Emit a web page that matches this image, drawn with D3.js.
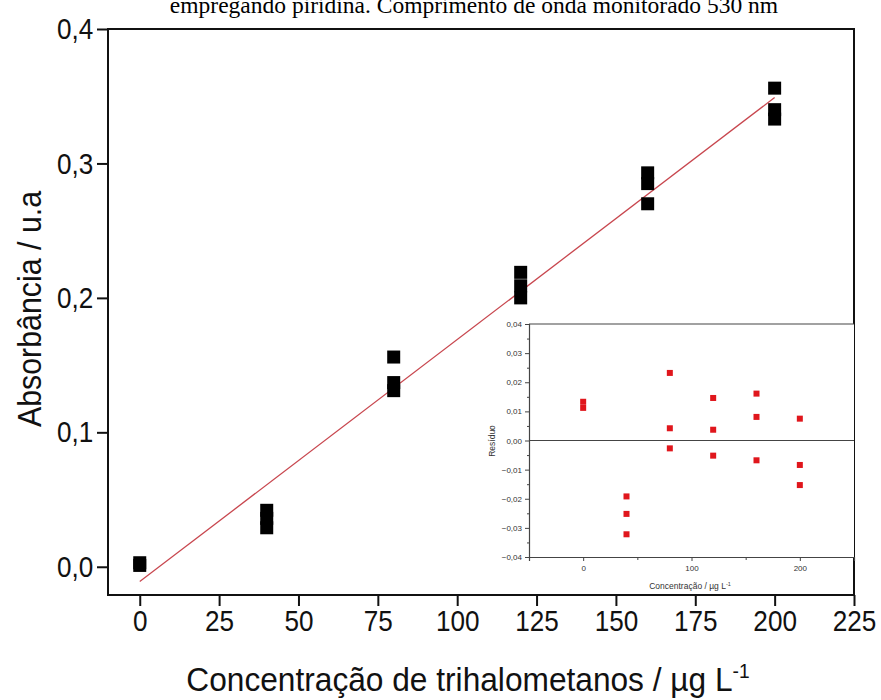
<!DOCTYPE html>
<html>
<head>
<meta charset="utf-8">
<script src="https://cdn.jsdelivr.net/npm/d3@7"></script>
<style>
  body { margin: 0; background: #fff; }
  svg { display: block; }
</style>
</head>
<body>
<script>
// concentrations (µg/L) and replicate absorbances
const conc = [0, 40, 80, 120, 160, 200];
const absorb = [
  [0.001, 0.003],
  [0.042, 0.036, 0.029],
  [0.156, 0.137, 0.131],
  [0.219, 0.209, 0.200],
  [0.293, 0.285, 0.270],
  [0.356, 0.340, 0.333]
];
const residuals = [
  [0.0112, 0.0133],
  [-0.0192, -0.0252, -0.0322],
  [0.0232, 0.0042, -0.0027],
  [0.0146, 0.0037, -0.0052],
  [0.0161, 0.0081, -0.0068],
  [0.0075, -0.0084, -0.0153]
];
const fitX = [0, 200];
const fitY = [-0.011, 0.349];
const xTicks = [0, 25, 50, 75, 100, 125, 150, 175, 200, 225];
const yTicks = [0, 0.1, 0.2, 0.3, 0.4];
const insetXTicks = [0, 100, 200];
const insetYTicks = [-0.04, -0.03, -0.02, -0.01, 0, 0.01, 0.02, 0.03, 0.04];

const W = 881, H = 700;
const plot = {left: 108, right: 854, top: 29, bottom: 595};
const inset = {left: 529, right: 854, top: 324, bottom: 557};

const fmt1 = d => d3.format('.1f')(d).replace('.', ',');
const fmt2 = d => d3.format('.2f')(d).replace('.', ',');

const svg = d3.select('body').append('svg')
  .attr('width', W).attr('height', H);

// caption, cut off by the top edge as in the original
svg.append('text')
  .attr('x', 474).attr('y', 13)
  .attr('text-anchor', 'middle')
  .style('font-family', '"Liberation Serif", "Times New Roman", serif')
  .style('font-size', '23.5px')
  .text('empregando piridina. Comprimento de onda monitorado 530 nm');

const x = d3.scaleLinear().domain([-10, 225]).range([plot.left, plot.right]);
const y = d3.scaleLinear().domain([-0.021, 0.4]).range([plot.bottom, plot.top]);

const mainFont = '"Liberation Sans", Arial, sans-serif';

const xAxis = svg.append('g')
  .attr('transform', `translate(0, ${plot.bottom})`)
  .call(d3.axisBottom(x).tickValues(xTicks).tickSize(11).tickPadding(4).tickFormat(d => d));
const yAxis = svg.append('g')
  .attr('transform', `translate(${plot.left}, 0)`)
  .call(d3.axisLeft(y).tickValues(yTicks).tickSize(11).tickPadding(6).tickFormat(fmt1));

[xAxis, yAxis].forEach(g => {
  g.select('.domain').remove();
  g.selectAll('line').attr('stroke', '#111').attr('stroke-width', 2);
  g.selectAll('text').attr('fill', '#111')
    .style('font-family', mainFont).style('font-size', '30px');
});
// the original glyphs are slightly condensed
xAxis.selectAll('text').attr('transform', 'scale(0.87,1)');
yAxis.selectAll('text').attr('transform', 'scale(0.87,1)');

svg.append('rect')
  .attr('x', plot.left).attr('y', plot.top)
  .attr('width', plot.right - plot.left).attr('height', plot.bottom - plot.top)
  .attr('fill', 'none').attr('stroke', '#111').attr('stroke-width', 2);

// axis titles
const xt = svg.append('text')
  .attr('transform', 'translate(468, 691) scale(0.96,1)')
  .attr('text-anchor', 'middle')
  .style('font-family', mainFont).style('font-size', '33px').attr('fill', '#111');
xt.append('tspan').text('Concentração de trihalometanos / µg L');
xt.append('tspan').attr('dy', -13).style('font-size', '20px').text('-1');

svg.append('text')
  .attr('transform', `translate(41, 309) rotate(-90) scale(0.92,1)`)
  .attr('text-anchor', 'middle')
  .style('font-family', mainFont).style('font-size', '33px').attr('fill', '#111')
  .text('Absorbância / u.a');

// fit line
svg.append('line')
  .attr('x1', x(fitX[0])).attr('y1', y(fitY[0]))
  .attr('x2', x(fitX[1])).attr('y2', y(fitY[1]))
  .attr('stroke', '#c8464e').attr('stroke-width', 1.3);

// replicate points
const pts = conc.flatMap((c, i) => absorb[i].map(v => [c, v]));
svg.append('g').selectAll('rect')
  .data(pts).enter().append('rect')
  .attr('x', d => x(d[0]) - 6.5).attr('y', d => y(d[1]) - 6.5)
  .attr('width', 13).attr('height', 13)
  .attr('fill', '#000');

// ---- residual inset ----
const ix = d3.scaleLinear().domain([-50, 250]).range([inset.left, inset.right]);
const iy = d3.scaleLinear().domain([-0.04, 0.04]).range([inset.bottom, inset.top]);
const ins = svg.append('g');
const smallFont = '"Liberation Sans", Arial, sans-serif';
const axisCol = '#444';

ins.append('rect')
  .attr('x', inset.left).attr('y', inset.top)
  .attr('width', inset.right - inset.left).attr('height', inset.bottom - inset.top)
  .attr('fill', '#fff');

// minor ticks
ins.append('g').attr('transform', `translate(${inset.left},0)`)
  .call(d3.axisLeft(iy).tickValues(d3.range(-0.035, 0.04, 0.01)).tickSize(2).tickFormat(''))
  .call(g => g.select('.domain').remove());
ins.append('g').attr('transform', `translate(0,${inset.bottom})`)
  .call(d3.axisBottom(ix).tickValues([50, 150]).tickSize(3).tickFormat(''))
  .call(g => g.select('.domain').remove());

const iyAxis = ins.append('g').attr('transform', `translate(${inset.left},0)`)
  .call(d3.axisLeft(iy).tickValues(insetYTicks).tickSize(4).tickPadding(3).tickFormat(fmt2));
const ixAxis = ins.append('g').attr('transform', `translate(0,${inset.bottom})`)
  .call(d3.axisBottom(ix).tickValues(insetXTicks).tickSize(4).tickPadding(4).tickFormat(d => d));
[iyAxis, ixAxis].forEach(g => {
  g.selectAll('text').attr('fill', '#333')
    .style('font-family', smallFont).style('font-size', '8px');
});
ins.selectAll('.domain, line').attr('stroke', axisCol);
ins.selectAll('.domain').attr('stroke-width', 1.2);

ins.append('line')
  .attr('x1', inset.left).attr('x2', inset.right)
  .attr('y1', inset.top).attr('y2', inset.top)
  .attr('stroke', axisCol).attr('stroke-width', 1.2);
ins.append('line')
  .attr('x1', inset.left).attr('x2', inset.right)
  .attr('y1', iy(0)).attr('y2', iy(0))
  .attr('stroke', axisCol).attr('stroke-width', 1);

const rpts = conc.flatMap((c, i) => residuals[i].map(v => [c, v]));
ins.append('g').selectAll('rect')
  .data(rpts).enter().append('rect')
  .attr('x', d => ix(d[0]) - 3).attr('y', d => iy(d[1]) - 3)
  .attr('width', 6).attr('height', 6)
  .attr('fill', '#e0161c');

const ixt = ins.append('text')
  .attr('x', 690).attr('y', 589)
  .attr('text-anchor', 'middle')
  .style('font-family', smallFont).style('font-size', '8.5px').attr('fill', '#333');
ixt.append('tspan').text('Concentração / µg L');
ixt.append('tspan').attr('dy', -3).style('font-size', '5.5px').text('-1');

ins.append('text')
  .attr('transform', `translate(495, 441) rotate(-90)`)
  .attr('text-anchor', 'middle')
  .style('font-family', smallFont).style('font-size', '8.5px').attr('fill', '#333')
  .text('Resíduo');
</script>
</body>
</html>
